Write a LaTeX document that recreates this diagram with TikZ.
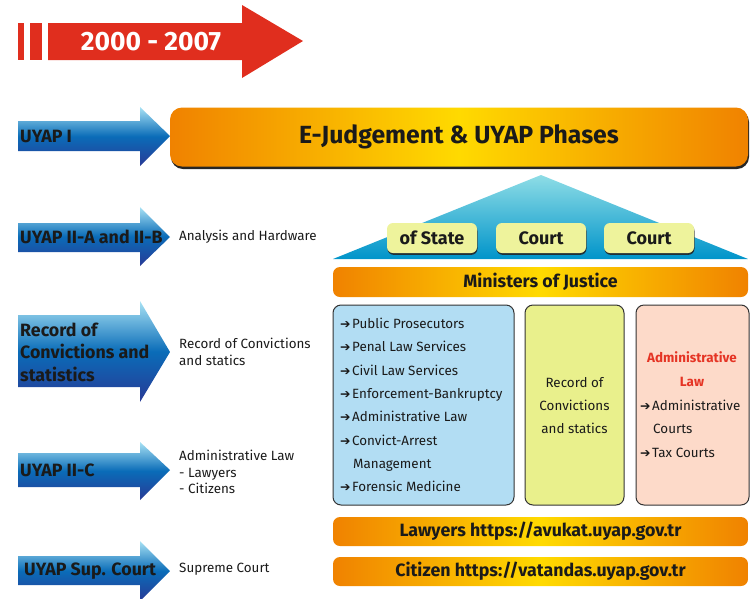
\documentclass[tikz,border=0pt]{standalone}
\usepackage{fontspec}
\setmainfont{Fira Sans}
\newfontfamily\djv{DejaVu Sans}
\usetikzlibrary{shadows}
\definecolor{ared}{HTML}{E02E1E}
\definecolor{orng}{HTML}{F08200}
\definecolor{yell}{HTML}{FFDA00}
\definecolor{blight}{HTML}{A8E2F4}
\definecolor{bmid}{HTML}{0A6CB8}
\definecolor{bdark}{HTML}{283A96}
\definecolor{tritop}{HTML}{8EDDE6}
\definecolor{tribot}{HTML}{0094CA}
\definecolor{pyel}{HTML}{EEF39C}
\definecolor{lblue}{HTML}{B2DDF3}
\definecolor{lyel}{HTML}{E9F08C}
\definecolor{lpink}{HTML}{FDDAC9}
\definecolor{tred}{HTML}{E53424}
\definecolor{txt}{HTML}{1A1A1A}
\newcommand\bul{{\djv\fontsize{12.5}{12}\selectfont ➔}\hspace{1.5pt}}
\newcommand\uyaparrow[5]{\path[uarrow] (18,#1) -- (140,#1) -- (140,#3) -- (170,#5) -- (140,#4) -- (140,#2) -- (18,#2) -- cycle;}
\tikzset{
  uarrow/.style={top color=blight, bottom color=bdark, middle color=bmid},
  ulabel/.style={anchor=west, align=left, font=\bfseries\fontsize{17.8}{22.5}\selectfont, text=txt, inner sep=0pt},
  side/.style={anchor=west, align=left, font=\fontsize{13.4}{16.5}\selectfont, text=txt, inner sep=0pt},
  obar/.style={rounded corners=7pt, left color=orng, right color=orng, middle color=yell, text=txt, font=\bfseries\fontsize{17.8}{20}\selectfont, inner sep=0pt},
  pbox/.style={rounded corners=6pt, fill=pyel, text=txt, font=\bfseries\fontsize{18}{20}\selectfont, inner sep=0pt, minimum width=90pt, minimum height=30pt, drop shadow={shadow xshift=0.5pt, shadow yshift=-1.8pt, opacity=0.9, fill=black!85}},
  cbox/.style={rounded corners=8pt, draw=black!80, line width=1pt},
  item/.style={anchor=base west, font=\fontsize{13.4}{15}\selectfont, text=txt, inner sep=0pt},
}
\begin{document}
\begin{tikzpicture}[x=1pt,y=-1pt]
\useasboundingbox (0,0) rectangle (753,598);
% red arrow
\fill[ared] (18,23) rectangle (24,60);
\fill[ared] (30,23) rectangle (42,60);
\fill[ared] (48,23) -- (242,23) -- (242,5) -- (303,41) -- (242,78) -- (242,60) -- (48,60) -- cycle;
\node[text=white, font=\bfseries\fontsize{26.5}{28}\selectfont] (yr) at (151,42) {2000 - 2007};
% blue arrows
\uyaparrow{121}{151}{107}{166}{136}
\uyaparrow{223}{252}{207}{266}{237}
\uyaparrow{315}{387}{301}{402}{352}
\uyaparrow{453}{487}{442}{500}{470}
\uyaparrow{556}{585}{541}{601}{571}
\node[ulabel] (u1) at (20,136) {UYAP I};
\node[ulabel] (u2) at (20,237) {UYAP II-A and II-B};
\node[ulabel] (u3) at (20,352) {Record of\\Convictions and\\statistics};
\node[ulabel] (u4) at (20,470) {UYAP II-C};
\node[ulabel] (u5) at (24,571) {UYAP Sup. Court};
% side texts
\node[side] (s1) at (179,237) {Analysis and Hardware};
\node[side] (s2) at (179,352) {Record of Convictions\\and statics};
\node[side] (s3) at (179,472) {Administrative Law\\- Lawyers\\- Citizens};
\node[side] (s4) at (179,569) {Supreme Court};
% E-Judgement box
\fill[black!85, rounded corners=12pt] (171,110) rectangle (749,169);
\node[obar, rounded corners=12pt, minimum width=578pt, minimum height=59pt, font=\bfseries\fontsize{24.8}{26}\selectfont] (ej) at (459,137) {E-Judgement \& UYAP Phases};
% roof
\path[top color=tritop, bottom color=tribot] (333,259) -- (541,175) -- (748,259) -- cycle;
\node[pbox] (p1) at (432,238) {of State};
\node[pbox] (p2) at (541,238) {Court};
\node[pbox] (p3) at (649,238) {Court};
% bars
\node[obar, minimum width=415pt, minimum height=30pt] (mj) at (540.5,282) {Ministers of Justice};
\node[obar, minimum width=415pt, minimum height=29pt] (lw) at (540.5,531.5) {Lawyers https://avukat.uyap.gov.tr};
\node[obar, minimum width=415pt, minimum height=29pt] (cz) at (540.5,571.5) {Citizen https://vatandas.uyap.gov.tr};
% three boxes
\draw[cbox, fill=lblue] (333,305) rectangle (514,505);
\draw[cbox, fill=lyel] (525,305) rectangle (624,505);
\draw[cbox, fill=lpink] (636,305) rectangle (749,505);
\node[item] (b1) at (340,328) {\bul Public Prosecutors};
\node[item] (b2) at (340,351) {\bul Penal Law Services};
\node[item] (b3) at (340,375) {\bul Civil Law Services};
\node[item] (b4) at (340,398) {\bul Enforcement-Bankruptcy};
\node[item] (b5) at (340,421) {\bul Administrative Law};
\node[item] (b6) at (340,445) {\bul Convict-Arrest};
\node[item] (b7) at (353,468) {Management};
\node[item] (b8) at (340,491) {\bul Forensic Medicine};
\node[item, anchor=base] (y1) at (574.5,387) {Record of};
\node[item, anchor=base] (y2) at (574.5,410) {Convictions};
\node[item, anchor=base] (y3) at (574.5,433) {and statics};
\node[item, anchor=base, text=tred, font=\bfseries\fontsize{13.4}{15}\selectfont] (r1) at (692,362) {Administrative};
\node[item, anchor=base, text=tred, font=\bfseries\fontsize{13.4}{15}\selectfont] (r2) at (692,386) {Law};
\node[item] (r3) at (640,410) {\bul Administrative};
\node[item] (r4) at (653,433) {Courts};
\node[item] (r5) at (640,457) {\bul Tax Courts};
\end{tikzpicture}
\end{document}
